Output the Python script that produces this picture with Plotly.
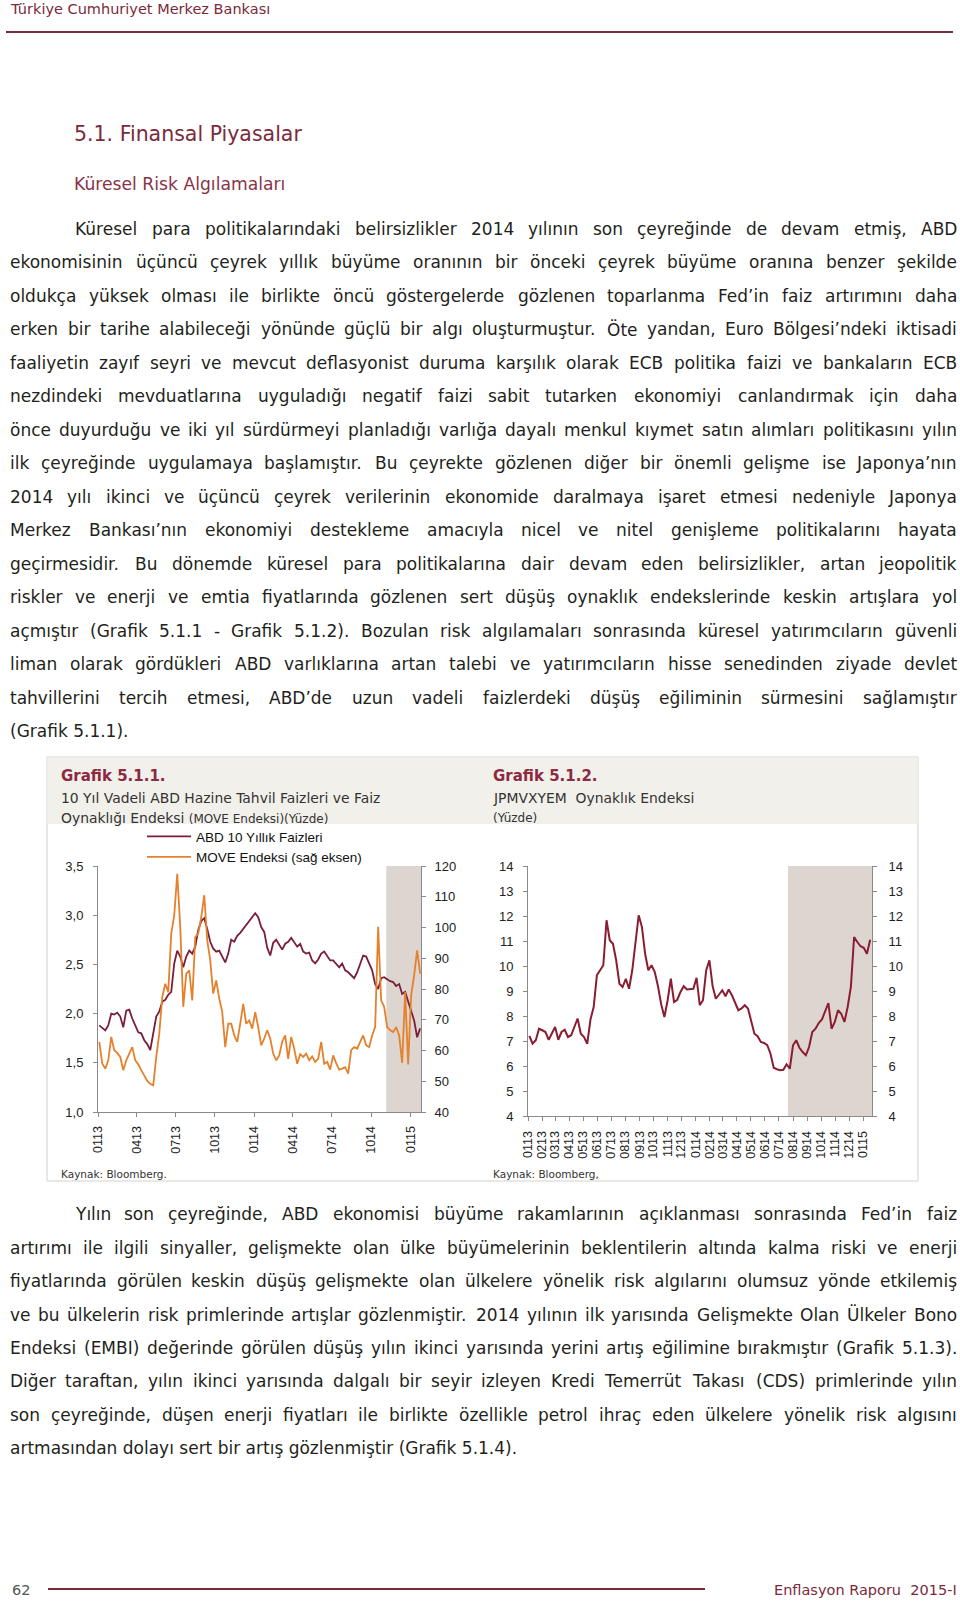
import plotly.graph_objects as go
import pandas as pd

# ---------------- data ----------------
US10Y = [1.88, 1.85, 1.83, 1.88, 2.00, 1.99, 2.01, 1.97, 1.86, 2.03,
         2.04, 1.95, 1.88, 1.81, 1.80, 1.73, 1.69, 1.63, 1.80, 1.97,
         2.02, 2.12, 2.14, 2.19, 2.22, 2.51, 2.64, 2.58, 2.47, 2.58,
         2.64, 2.61, 2.68, 2.85, 2.94, 2.97, 2.86, 2.73, 2.66, 2.63,
         2.64, 2.58, 2.52, 2.61, 2.75, 2.73, 2.79, 2.82, 2.86, 2.91,
         2.95, 2.99, 3.02, 2.98, 2.88, 2.83, 2.67, 2.59, 2.72, 2.75,
         2.70, 2.65, 2.71, 2.73, 2.77, 2.72, 2.68, 2.71, 2.63, 2.61,
         2.62, 2.54, 2.51, 2.55, 2.61, 2.63, 2.58, 2.54, 2.54, 2.51,
         2.47, 2.51, 2.44, 2.42, 2.39, 2.36, 2.42, 2.51, 2.59, 2.58,
         2.51, 2.44, 2.30, 2.25, 2.36, 2.37, 2.35, 2.33, 2.32, 2.28,
         2.30, 2.20, 2.22, 2.13, 2.02, 1.93, 1.76, 1.85]

MOVE = [62.8, 55.7, 54.1, 56.8, 64.4, 60.1, 59.2, 57.9, 53.6, 56.8,
        59.0, 61.1, 56.8, 55.5, 53.6, 51.6, 50.1, 49.2, 48.7, 57.9,
        65.5, 77.4, 81.7, 79.0, 98.0, 104.0, 117.5, 100.2, 74.2, 85.0,
        86.1, 76.3, 96.9, 98.0, 103.4, 110.5, 95.8, 89.3, 78.5, 82.8,
        76.9, 72.5, 61.1, 68.7, 68.7, 64.9, 62.8, 68.7, 75.2, 68.7,
        69.8, 67.1, 72.5, 67.6, 61.7, 63.9, 66.6, 63.9, 59.0, 56.8,
        58.4, 62.8, 64.9, 57.3, 64.4, 60.6, 55.7, 58.8, 57.9, 59.0,
        56.8, 58.1, 56.3, 57.3, 62.8, 55.7, 56.3, 53.8, 58.4, 55.9,
        53.8, 54.1, 54.6, 52.5, 60.1, 61.1, 60.6, 62.8, 64.9, 61.7,
        61.1, 64.9, 67.6, 100.2, 76.3, 74.2, 67.6, 66.6, 66.0, 67.6,
        64.9, 56.0, 79.0, 55.5, 78.0, 84.5, 92.6, 85.0]

JPMVXYEM = [7.20, 6.89, 7.03, 7.49, 7.43, 7.36, 7.05, 7.29, 7.56, 7.05,
            7.36, 7.45, 7.16, 7.23, 7.60, 7.90, 7.29, 7.16, 6.89, 7.86,
            8.36, 9.63, 9.83, 10.03, 11.83, 11.03, 10.89, 10.23, 9.29, 9.16,
            9.49, 9.09, 9.83, 10.92, 12.03, 11.56, 10.49, 9.83, 10.03, 9.76,
            9.19, 8.47, 7.96, 8.63, 9.49, 8.56, 8.65, 8.96, 9.19, 9.06,
            9.09, 9.09, 9.53, 8.43, 8.63, 9.83, 10.23, 9.19, 8.69, 8.87,
            9.03, 8.79, 9.06, 8.83, 8.52, 8.23, 8.30, 8.43, 8.30, 7.76,
            7.29, 7.19, 6.96, 6.92, 6.83, 6.49, 5.93, 5.87, 5.83, 5.85,
            6.07, 5.89, 6.83, 7.03, 6.73, 6.56, 6.43, 6.76, 7.36, 7.49,
            7.72, 7.86, 8.23, 8.52, 7.49, 7.76, 8.23, 8.09, 7.76, 8.36,
            9.16, 11.16, 10.96, 10.79, 10.73, 10.49, 11.05]

LEFT_FIRST_WEEK = "2013-01-04"
RIGHT_FIRST_WEEK = "2013-01-04"

LEFT_TICKVALS = ["2013-01-01", "2013-04-01", "2013-07-01", "2013-10-01", "2014-01-01",
                 "2014-04-01", "2014-07-01", "2014-10-01", "2015-01-01"]
LEFT_TICKTEXT = ["0113", "0413", "0713", "1013", "0114", "0414", "0714", "1014", "0115"]

RIGHT_TICKVALS = ["2013-01-01", "2013-02-01", "2013-03-01", "2013-04-01", "2013-05-01",
                  "2013-06-01", "2013-07-01", "2013-08-01", "2013-09-01", "2013-10-01",
                  "2013-11-01", "2013-12-01", "2014-01-01", "2014-02-01", "2014-03-01",
                  "2014-04-01", "2014-05-01", "2014-06-01", "2014-07-01", "2014-08-01",
                  "2014-09-01", "2014-10-01", "2014-11-01", "2014-12-01", "2015-01-01"]
RIGHT_TICKTEXT = ["0113", "0213", "0313", "0413", "0513", "0613", "0713", "0813", "0913",
                  "1013", "1113", "1213", "0114", "0214", "0314", "0414", "0514", "0614",
                  "0714", "0814", "0914", "1014", "1114", "1214", "0115"]

LEFT_RANGE = ["2013-01-01", "2015-01-25"]
RIGHT_RANGE = ["2013-01-01", "2015-01-20"]
LEFT_SHADE = ["2014-11-05", "2015-01-25"]
RIGHT_SHADE = ["2014-07-21", "2015-01-20"]

PARA1 = [
    "Küresel para politikalarındaki belirsizlikler 2014 yılının son çeyreğinde de devam etmiş, ABD",
    "ekonomisinin üçüncü çeyrek yıllık büyüme oranının bir önceki çeyrek büyüme oranına benzer şekilde",
    "oldukça yüksek olması ile birlikte öncü göstergelerde gözlenen toparlanma Fed’in faiz artırımını daha",
    "erken bir tarihe alabileceği yönünde güçlü bir algı oluşturmuştur. Öte yandan, Euro Bölgesi’ndeki iktisadi",
    "faaliyetin zayıf seyri ve mevcut deflasyonist duruma karşılık olarak ECB politika faizi ve bankaların ECB",
    "nezdindeki mevduatlarına uyguladığı negatif faizi sabit tutarken ekonomiyi canlandırmak için daha",
    "önce duyurduğu ve iki yıl sürdürmeyi planladığı varlığa dayalı menkul kıymet satın alımları politikasını yılın",
    "ilk çeyreğinde uygulamaya başlamıştır. Bu çeyrekte gözlenen diğer bir önemli gelişme ise Japonya’nın",
    "2014 yılı ikinci ve üçüncü çeyrek verilerinin ekonomide daralmaya işaret etmesi nedeniyle Japonya",
    "Merkez Bankası’nın ekonomiyi destekleme amacıyla nicel ve nitel genişleme politikalarını hayata",
    "geçirmesidir. Bu dönemde küresel para politikalarına dair devam eden belirsizlikler, artan jeopolitik",
    "riskler ve enerji ve emtia fiyatlarında gözlenen sert düşüş oynaklık endekslerinde keskin artışlara yol",
    "açmıştır (Grafik 5.1.1 - Grafik 5.1.2). Bozulan risk algılamaları sonrasında küresel yatırımcıların güvenli",
    "liman olarak gördükleri ABD varlıklarına artan talebi ve yatırımcıların hisse senedinden ziyade devlet",
    "tahvillerini tercih etmesi, ABD’de uzun vadeli faizlerdeki düşüş eğiliminin sürmesini sağlamıştır",
    "(Grafik 5.1.1).",
]
PARA2 = [
    "Yılın son çeyreğinde, ABD ekonomisi büyüme rakamlarının açıklanması sonrasında Fed’in faiz",
    "artırımı ile ilgili sinyaller, gelişmekte olan ülke büyümelerinin beklentilerin altında kalma riski ve enerji",
    "fiyatlarında görülen keskin düşüş gelişmekte olan ülkelere yönelik risk algılarını olumsuz yönde etkilemiş",
    "ve bu ülkelerin risk primlerinde artışlar gözlenmiştir. 2014 yılının ilk yarısında Gelişmekte Olan Ülkeler Bono",
    "Endeksi (EMBI) değerinde görülen düşüş yılın ikinci yarısında yerini artış eğilimine bırakmıştır (Grafik 5.1.3).",
    "Diğer taraftan, yılın ikinci yarısında dalgalı bir seyir izleyen Kredi Temerrüt Takası (CDS) primlerinde yılın",
    "son çeyreğinde, düşen enerji fiyatları ile birlikte özellikle petrol ihraç eden ülkelere yönelik risk algısını",
    "artmasından dolayı sert bir artış gözlenmiştir (Grafik 5.1.4).",
]

# ---------------- style ----------------
W, H = 960, 1602
BODY_FONT = "DejaVu Sans"
CHART_FONT = "Liberation Sans, Arial"
MAROON_TXT = "#7b2a3c"
BODY_COL = "#231f20"
LINE_MAROON = "#7a1f3a"
LINE_ORANGE = "#e5812b"
LINE_RED = "#8a1d32"
SHADE = "#ddd5cf"
AXIS = "#8a8a8a"
TICK_COL = "#222222"


def fx(x):
    return x / W


def fy(y):
    return 1 - y / H


EM = {
    'a': .613, 'b': .635, 'c': .550, 'd': .635, 'e': .615, 'f': .352, 'g': .635, 'h': .634,
    'i': .278, 'j': .278, 'k': .579, 'l': .278, 'm': .974, 'n': .634, 'o': .612, 'p': .635,
    'q': .635, 'r': .411, 's': .521, 't': .392, 'u': .634, 'v': .592, 'w': .818, 'x': .592,
    'y': .592, 'z': .525, 'ı': .278, 'ş': .521, 'ç': .550, 'ğ': .635, 'ö': .612, 'ü': .634,
    'A': .684, 'B': .686, 'C': .698, 'D': .770, 'E': .632, 'F': .575, 'G': .775, 'H': .752,
    'I': .295, 'J': .295, 'K': .656, 'L': .557, 'M': .863, 'N': .748, 'O': .787, 'P': .603,
    'Q': .787, 'R': .695, 'S': .635, 'T': .611, 'U': .732, 'V': .684, 'W': .989, 'X': .685,
    'Y': .611, 'Z': .685, 'İ': .295, 'Ş': .635, 'Ç': .698, 'Ö': .787, 'Ü': .732, 'Ğ': .775,
    ' ': .318, '.': .318, ',': .318, '(': .390, ')': .390, '-': .361, '’': .318, ':': .337,
}
for d in "0123456789":
    EM[d] = .636


def em_width(s):
    return sum(EM.get(c, .6) for c in s)


ANN = []


def text(x, y, s, size, color, family=BODY_FONT, xanchor="left", weight="normal"):
    ANN.append(dict(x=fx(x), y=fy(y), xref="paper", yref="paper", text=s, showarrow=False,
                    xanchor=xanchor, yanchor="middle", borderpad=0, borderwidth=0,
                    font=dict(size=size, color=color, family=family, weight=weight)))


LEFT_M, INDENT, RIGHT_M = 10, 74.5, 957


def body_size(paras):
    best = 17.0
    for para in paras:
        for i, line in enumerate(para[:-1]):
            words = line.split(" ")
            lx = INDENT if i == 0 else LEFT_M
            avail = RIGHT_M - lx - 3.5 * (len(words) - 1)
            best = min(best, avail / sum(em_width(w) for w in words))
    return best


BSIZE = body_size([PARA1, PARA2])


def paragraph(lines, y0, dy):
    for i, line in enumerate(lines):
        y = y0 + i * dy
        lx = INDENT if i == 0 else LEFT_M
        if i == len(lines) - 1:
            text(lx, y, line, BSIZE, BODY_COL)
            continue
        words = line.split(" ")
        widths = [em_width(w) * BSIZE for w in words]
        gap = (RIGHT_M - lx - sum(widths)) / (len(words) - 1)
        x = lx
        for j, (wd, ww) in enumerate(zip(words, widths)):
            if j == len(words) - 1:
                text(RIGHT_M, y, wd, BSIZE, BODY_COL, xanchor="right")
            else:
                text(x, y, wd, BSIZE, BODY_COL)
            x += ww + gap


# ---------------- page text ----------------
text(10, 9.5, "Türkiye Cumhuriyet Merkez Bankası", 14.5, MAROON_TXT)
text(74, 134, "5.1. Finansal Piyasalar", 20.5, MAROON_TXT)
text(74, 184, "Küresel Risk Algılamaları", 17.2, "#8a3347")
paragraph(PARA1, 228.8, 33.5)
paragraph(PARA2, 1214.3, 33.4)
text(12, 1590, "62", 14.5, "#555555")
text(957, 1590, "Enflasyon Raporu  2015-I", 14.5, MAROON_TXT, xanchor="right")

# chart titles
text(61, 776, "Grafik 5.1.1.", 15, "#8b2a40", weight="bold")
text(61, 798, "10 Yıl Vadeli ABD Hazine Tahvil Faizleri ve Faiz", 13.9, "#333333")
text(61, 818, "Oynaklığı Endeksi <span style='font-size:12px'>(MOVE Endeksi)(Yüzde)</span>", 13.9, "#333333")
text(493, 776, "Grafik 5.1.2.", 15, "#8b2a40", weight="bold")
text(493, 798, "JPMVXYEM  Oynaklık Endeksi", 13.9, "#333333")
text(493, 818, "(Yüzde)", 12, "#333333")
text(61, 1174, "Kaynak: Bloomberg.", 10.5, "#333333")
text(493, 1174, "Kaynak: Bloomberg,", 10.5, "#333333")

# ---------------- traces ----------------
left_x = pd.date_range(LEFT_FIRST_WEEK, periods=len(US10Y), freq="7D")
right_x = pd.date_range(RIGHT_FIRST_WEEK, periods=len(JPMVXYEM), freq="7D")

fig = go.Figure()
fig.add_trace(go.Scatter(x=left_x, y=US10Y, mode="lines", name="ABD 10 Yıllık Faizleri",
                         xaxis="x", yaxis="y", legendgroup="a",
                         line=dict(color=LINE_MAROON, width=1.8)))
fig.add_trace(go.Scatter(x=left_x, y=MOVE, mode="lines", name="MOVE Endeksi (sağ eksen)",
                         xaxis="x", yaxis="y2", legendgroup="b",
                         line=dict(color=LINE_ORANGE, width=1.8)))
fig.add_trace(go.Scatter(x=right_x, y=JPMVXYEM, mode="lines", name="JPMVXYEM",
                         xaxis="x2", yaxis="y3", showlegend=False,
                         line=dict(color=LINE_RED, width=2)))
fig.add_trace(go.Scatter(x=right_x, y=JPMVXYEM, mode="lines", name="JPMVXYEM (sağ)",
                         xaxis="x2", yaxis="y4", showlegend=False, opacity=0,
                         hoverinfo="skip", line=dict(color=LINE_RED, width=1)))

tickfont = dict(family=CHART_FONT, size=13, color=TICK_COL)
xtickfont = dict(family=CHART_FONT, size=12.5, color=TICK_COL)
common = dict(showline=True, linecolor=AXIS, linewidth=1, ticks="outside", ticklen=4,
              tickcolor=AXIS, showgrid=False, zeroline=False, fixedrange=True,
              automargin=False)

shapes = [
    dict(type="rect", xref="paper", yref="paper", x0=fx(47), x1=fx(918), y0=fy(1181), y1=fy(757),
         line=dict(color="#d5d1cb", width=1), fillcolor="white", layer="below"),
    dict(type="rect", xref="paper", yref="paper", x0=fx(47.5), x1=fx(917.5), y0=fy(824), y1=fy(757.5),
         line=dict(width=0), fillcolor="#f2f0eb", layer="below"),
    dict(type="rect", xref="x", yref="y domain", x0=LEFT_SHADE[0], x1=LEFT_SHADE[1], y0=0, y1=1,
         line=dict(width=0), fillcolor=SHADE, layer="below"),
    dict(type="rect", xref="x2", yref="y3 domain", x0=RIGHT_SHADE[0], x1=RIGHT_SHADE[1], y0=0, y1=1,
         line=dict(width=0), fillcolor=SHADE, layer="below"),
    dict(type="line", xref="paper", yref="paper", x0=fx(6), x1=fx(953), y0=fy(32), y1=fy(32),
         line=dict(color=MAROON_TXT, width=2)),
    dict(type="line", xref="paper", yref="paper", x0=fx(48), x1=fx(705), y0=fy(1589), y1=fy(1589),
         line=dict(color=MAROON_TXT, width=2)),
]

fig.update_layout(
    width=W, height=H, autosize=False,
    margin=dict(l=0, r=0, t=0, b=0, pad=0, autoexpand=False),
    paper_bgcolor="white", plot_bgcolor="rgba(0,0,0,0)",
    separators=", ",
    showlegend=True,
    legend=dict(x=fx(142), y=fy(821), xanchor="left", yanchor="top", bgcolor="rgba(0,0,0,0)",
                font=dict(family=CHART_FONT, size=13.5, color="#111111"),
                tracegroupgap=9, itemwidth=44, traceorder="normal"),
    xaxis=dict(domain=[fx(98), fx(421)], anchor="y", type="date", range=LEFT_RANGE,
               tickmode="array", tickvals=LEFT_TICKVALS, ticktext=LEFT_TICKTEXT,
               tickangle=-90, tickfont=xtickfont, ticklabelstandoff=4, **common),
    yaxis=dict(domain=[fy(1112), fy(866)], anchor="x", range=[1.0, 3.5], tick0=1.0, dtick=0.5,
               tickformat=".1f", tickfont=tickfont, ticklabelstandoff=7, **common),
    yaxis2=dict(overlaying="y", side="right", anchor="x", range=[40, 120], tick0=40, dtick=10,
                tickfont=tickfont, ticklabelstandoff=6, **common),
    xaxis2=dict(domain=[fx(528), fx(872)], anchor="y3", type="date", range=RIGHT_RANGE,
                tickmode="array", tickvals=RIGHT_TICKVALS, ticktext=RIGHT_TICKTEXT,
                tickangle=-90, tickfont=xtickfont, ticklabelstandoff=5, **common),
    yaxis3=dict(domain=[fy(1116), fy(866)], anchor="x2", range=[4, 14], tick0=4, dtick=1,
                tickfont=tickfont, ticklabelstandoff=7, **common),
    yaxis4=dict(overlaying="y3", side="right", anchor="x2", range=[4, 14], tick0=4, dtick=1,
                tickfont=tickfont, ticklabelstandoff=9, **common),
    shapes=shapes,
    annotations=ANN,
)

fig.write_html(
    "out.html",
    config={"displayModeBar": False},
    post_script=(
        "document.documentElement.style.margin='0';"
        "document.documentElement.style.padding='0';"
        "document.body.style.margin='0';document.body.style.padding='0';"
        "var gd=document.getElementById('{plot_id}');"
        "gd.style.position='fixed';gd.style.left='0px';gd.style.top='0px';"
    ),
)
